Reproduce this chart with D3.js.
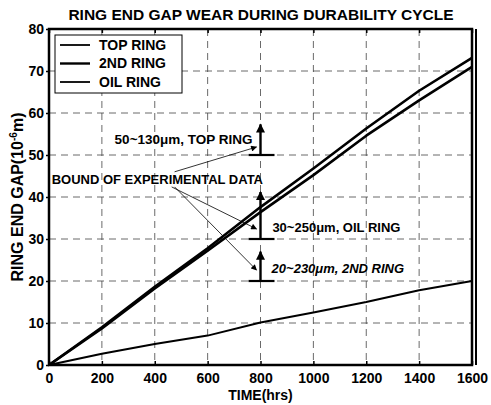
<!DOCTYPE html>
<html>
<head>
<meta charset="utf-8">
<script src="https://cdn.jsdelivr.net/npm/d3@7"></script>
<style>
  body { margin: 0; background: #fff; }
  text { font-family: "Liberation Sans", Arial, sans-serif; font-weight: bold; fill: #000; }
</style>
</head>
<body>
<div id="chart"></div>
<script>
// chart data
var hours = [0, 200, 400, 600, 800, 1000, 1200, 1400, 1600];
var topRing = [0, 9.0, 18.6, 27.8, 37.6, 46.8, 56.3, 65.3, 73.1];
var secondRing = [0, 8.7, 18.2, 27.2, 36.4, 45.2, 54.6, 63.0, 71.0];
var oilRing = [0, 2.7, 5.0, 7.0, 10.1, 12.5, 15.0, 17.8, 20.0];

var seriesNames = ["TOP RING", "2ND RING", "OIL RING"];
var xTicks = [0, 200, 400, 600, 800, 1000, 1200, 1400, 1600];
var yTicks = [0, 10, 20, 30, 40, 50, 60, 70, 80];

// experimental bounds (arrow base and tip, at 800 hrs)
var boundX = 800;
var boundBase = [50, 30, 20];
var boundTip = [57.3, 41.2, 27];
var boundLabels = ["50~130\u03bcm, TOP RING", "30~250\u03bcm, OIL RING", "20~230\u03bcm, 2ND RING"];

// leader lines from the "BOUND OF EXPERIMENTAL DATA" note
var leaderFrom = [[475, 46.0], [464, 42.4], [475, 42.4]];
var leaderTo = [[785, 51.9], [785, 32.4], [785, 22.6]];

var svgWidth = 491;
var svgHeight = 405;
var margin = { top: 29, right: 19, bottom: 40, left: 49 };
var width = svgWidth - margin.left - margin.right;
var height = svgHeight - margin.top - margin.bottom;

var svg = d3.select("#chart")
  .append("svg")
  .attr("width", svgWidth)
  .attr("height", svgHeight);

svg.append("rect")
  .attr("width", svgWidth)
  .attr("height", svgHeight)
  .attr("fill", "#fff");

var defs = svg.append("defs");
defs.append("marker")
  .attr("id", "bigHead")
  .attr("viewBox", "0 0 10 10")
  .attr("refX", 9).attr("refY", 5)
  .attr("markerUnits", "userSpaceOnUse")
  .attr("markerWidth", 10).attr("markerHeight", 9)
  .attr("orient", "auto")
  .append("path").attr("d", "M0,0L10,5L0,10z").attr("fill", "#000");
defs.append("marker")
  .attr("id", "smallHead")
  .attr("viewBox", "0 0 10 10")
  .attr("refX", 9).attr("refY", 5)
  .attr("markerUnits", "userSpaceOnUse")
  .attr("markerWidth", 7).attr("markerHeight", 6)
  .attr("orient", "auto")
  .append("path").attr("d", "M0,0L10,5L0,10z").attr("fill", "#000");

var chartGroup = svg.append("g")
  .attr("transform", `translate(${margin.left}, ${margin.top})`);

var xScale = d3.scaleLinear().domain([0, 1600]).range([0, width]);
var yScale = d3.scaleLinear().domain([0, 80]).range([height, 0]);

// grid
chartGroup.selectAll(".vgrid")
  .data(xTicks.slice(1, -1))
  .enter().append("line")
  .attr("x1", d => xScale(d)).attr("x2", d => xScale(d))
  .attr("y1", 0).attr("y2", height)
  .attr("stroke", "#444").attr("stroke-width", 0.8)
  .attr("stroke-dasharray", "7,5");

chartGroup.selectAll(".hgrid")
  .data(yTicks.slice(1, -1))
  .enter().append("line")
  .attr("x1", 0).attr("x2", width)
  .attr("y1", d => yScale(d)).attr("y2", d => yScale(d))
  .attr("stroke", "#444").attr("stroke-width", 0.8)
  .attr("stroke-dasharray", "7,5");

// axes
var bottomAxis = d3.axisBottom(xScale).tickValues(xTicks).tickFormat(d3.format("d"))
  .tickSizeInner(-4).tickSizeOuter(0).tickPadding(8);
var topAxis = d3.axisTop(xScale).tickValues(xTicks).tickSizeInner(-4).tickSizeOuter(0).tickFormat("");
var leftAxis = d3.axisLeft(yScale).tickValues(yTicks).tickSizeInner(3).tickSizeOuter(0).tickPadding(2);

var gx = chartGroup.append("g").attr("transform", `translate(0, ${height})`).call(bottomAxis);
var gt = chartGroup.append("g").call(topAxis);
var gy = chartGroup.append("g").call(leftAxis);
[gx, gt, gy].forEach(function(g) {
  g.select(".domain").remove();
  g.selectAll("line").attr("stroke", "#000").attr("stroke-width", 1.5);
  g.selectAll("text").attr("font-size", 14).attr("font-family", "Liberation Sans, Arial, sans-serif").attr("font-weight", "bold");
});
gy.selectAll("text").attr("dy", "0.35em");

// series lines
var line = d3.line()
  .x(d => xScale(d[0]))
  .y(d => yScale(d[1]));

var series = [topRing, secondRing, oilRing];
var widths = [2.6, 2.6, 2];
series.forEach(function(vals, i) {
  chartGroup.append("path")
    .datum(hours.map((h, j) => [h, vals[j]]))
    .attr("d", line)
    .attr("fill", "none")
    .attr("stroke", "#000")
    .attr("stroke-width", widths[i])
    .attr("stroke-linejoin", "round");
});

// frame
chartGroup.append("rect")
  .attr("width", width).attr("height", height)
  .attr("fill", "none").attr("stroke", "#000").attr("stroke-width", 2.5);
chartGroup.append("line")
  .attr("x1", width + 4).attr("x2", width + 4)
  .attr("y1", 0).attr("y2", height)
  .attr("stroke", "#000").attr("stroke-width", 2);

// bound arrows
boundBase.forEach(function(b, i) {
  var cx = xScale(boundX);
  chartGroup.append("line")
    .attr("x1", cx - 12).attr("x2", cx + 14)
    .attr("y1", yScale(b)).attr("y2", yScale(b))
    .attr("stroke", "#000").attr("stroke-width", 2.2);
  chartGroup.append("line")
    .attr("x1", cx).attr("x2", cx)
    .attr("y1", yScale(b)).attr("y2", yScale(boundTip[i]))
    .attr("stroke", "#000").attr("stroke-width", 2.4)
    .attr("marker-end", "url(#bigHead)");
});

// leader lines
leaderFrom.forEach(function(f, i) {
  chartGroup.append("line")
    .attr("x1", xScale(f[0])).attr("y1", yScale(f[1]))
    .attr("x2", xScale(leaderTo[i][0])).attr("y2", yScale(leaderTo[i][1]))
    .attr("stroke", "#000").attr("stroke-width", 0.8)
    .attr("marker-end", "url(#smallHead)");
});

// annotation texts
chartGroup.append("text")
  .attr("x", xScale(10)).attr("y", yScale(43))
  .attr("font-size", 13)
  .text("BOUND OF EXPERIMENTAL DATA");

chartGroup.append("text")
  .attr("x", xScale(770)).attr("y", yScale(52.7))
  .attr("text-anchor", "end")
  .attr("font-size", 13.5)
  .text(boundLabels[0]);

chartGroup.append("text")
  .attr("x", xScale(845)).attr("y", yScale(31.7))
  .attr("font-size", 13)
  .text(boundLabels[1]);

chartGroup.append("text")
  .attr("x", xScale(842)).attr("y", yScale(21.9))
  .attr("font-size", 13)
  .attr("font-style", "italic")
  .text(boundLabels[2]);

// legend
var legend = chartGroup.append("g").attr("transform", "translate(6, 6)");
legend.append("rect")
  .attr("width", 127).attr("height", 58)
  .attr("fill", "#fff").attr("stroke", "#000").attr("stroke-width", 1);
seriesNames.forEach(function(name, i) {
  var ly = 10 + i * 18.5;
  legend.append("line")
    .attr("x1", 5).attr("x2", 35)
    .attr("y1", ly).attr("y2", ly)
    .attr("stroke", "#000").attr("stroke-width", i === 1 ? 2.4 : 1.8);
  legend.append("text")
    .attr("x", 44).attr("y", ly)
    .attr("dy", "0.35em")
    .attr("font-size", 14)
    .text(name);
});

// title and axis labels
svg.append("text")
  .attr("x", 261).attr("y", 20)
  .attr("text-anchor", "middle")
  .attr("font-size", 15.5)
  .text("RING END GAP WEAR DURING DURABILITY CYCLE");

svg.append("text")
  .attr("x", margin.left + width / 2).attr("y", 400)
  .attr("text-anchor", "middle")
  .attr("font-size", 14)
  .text("TIME(hrs)");

var yLabel = svg.append("text")
  .attr("transform", `translate(23, ${margin.top + height / 2}) rotate(-90)`)
  .attr("text-anchor", "middle")
  .attr("font-size", 16);
yLabel.append("tspan").text("RING END GAP(10");
yLabel.append("tspan").attr("dy", -6).attr("font-size", 10).text("-6");
yLabel.append("tspan").attr("dy", 6).text("m)");
</script>
</body>
</html>
